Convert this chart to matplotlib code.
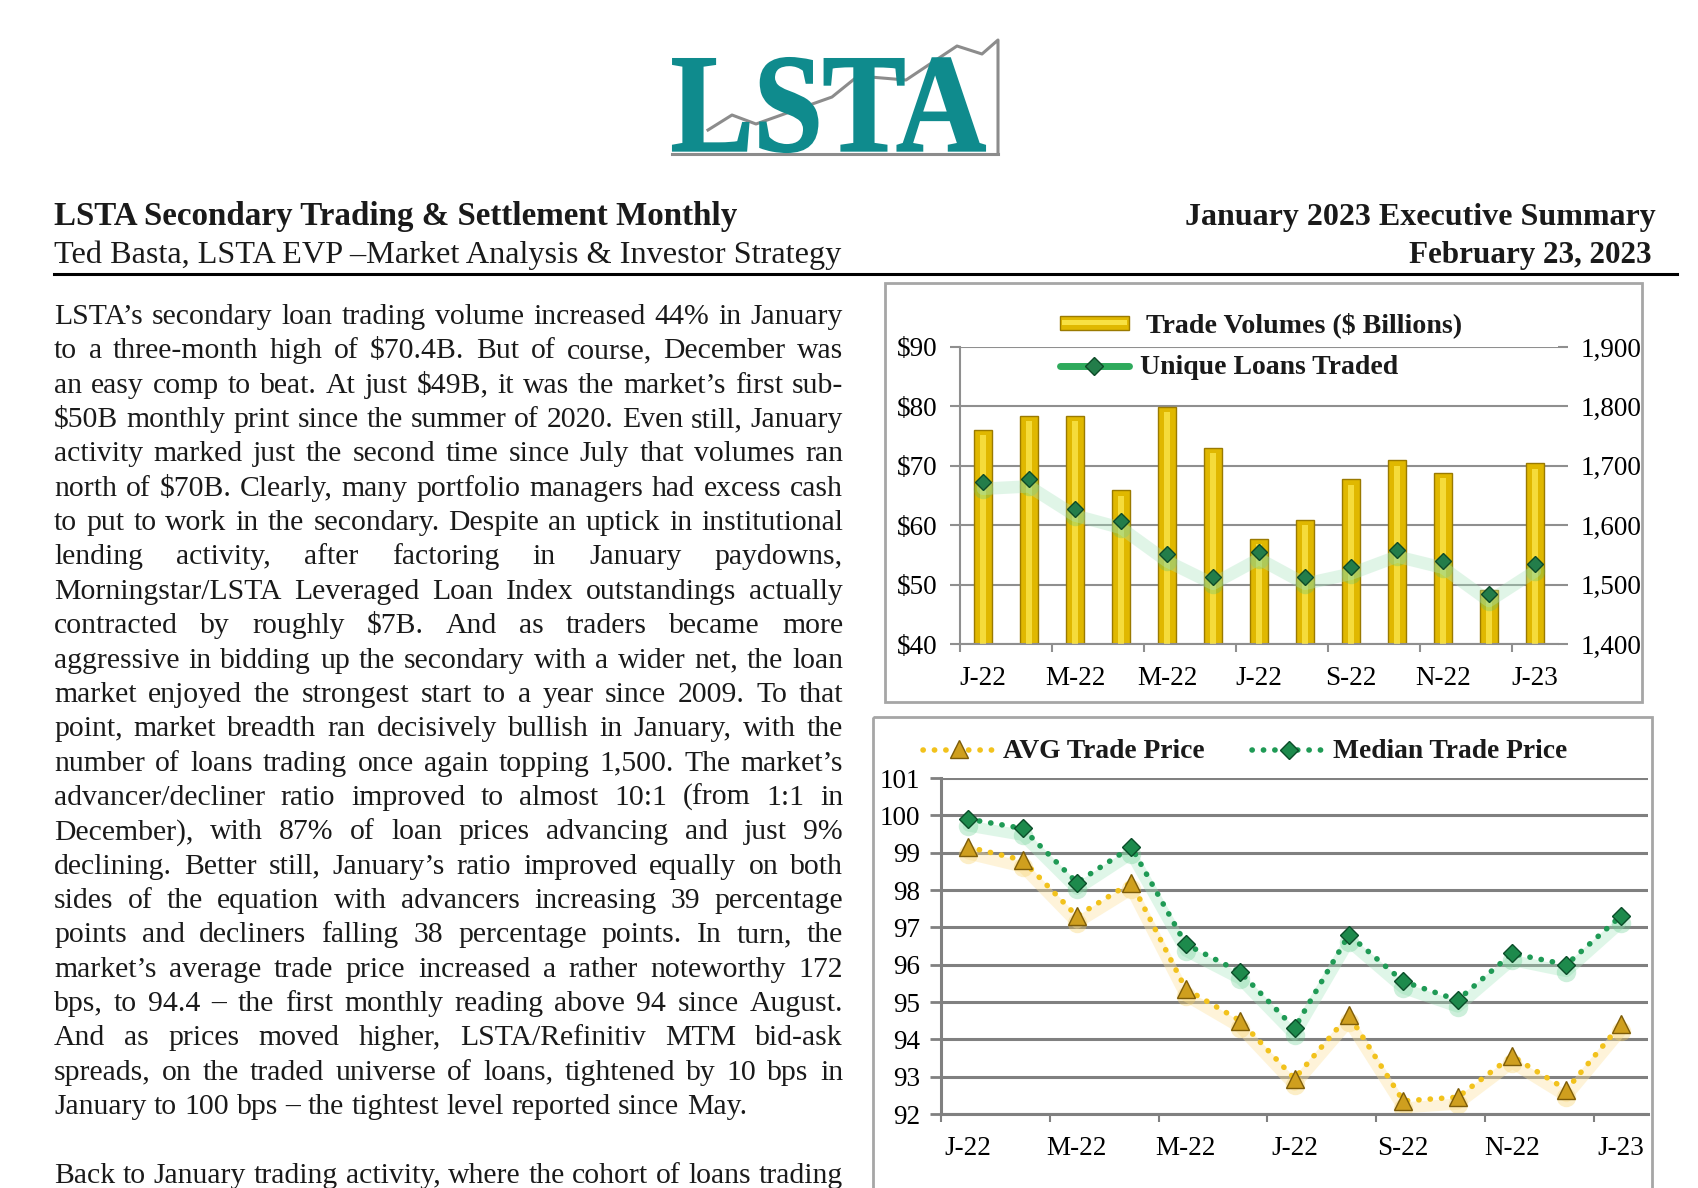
import matplotlib
matplotlib.use("Agg")
import matplotlib.pyplot as plt
import numpy as np
from matplotlib.patches import Rectangle, PathPatch
from matplotlib.textpath import TextPath
from matplotlib.font_manager import FontProperties
from matplotlib.transforms import Affine2D, ScaledTranslation
from matplotlib.ticker import FuncFormatter

W, H = 1699, 1188
plt.rcParams['font.family'] = ['Liberation Serif', 'DejaVu Serif']

# ---- data ----
months = ['Jan-22', 'Feb-22', 'Mar-22', 'Apr-22', 'May-22', 'Jun-22', 'Jul-22',
          'Aug-22', 'Sep-22', 'Oct-22', 'Nov-22', 'Dec-22', 'Jan-23']
tick_labels = ['J-22', 'M-22', 'M-22', 'J-22', 'S-22', 'N-22', 'J-23']
trade_volume = [76.1, 78.4, 78.4, 65.9, 79.9, 73.0, 57.7, 60.9, 67.7, 70.9, 68.8, 49.1, 70.4]
unique_loans = [1673, 1677, 1628, 1607, 1551, 1513, 1555, 1513, 1530, 1559, 1540, 1484, 1534]
avg_price = [99.15, 98.8, 97.3, 98.2, 95.35, 94.5, 92.95, 94.65, 92.35, 92.45, 93.55, 92.65, 94.4]
median_price = [99.9, 99.65, 98.2, 99.15, 96.55, 95.8, 94.3, 96.8, 95.55, 95.05, 96.3, 96.0, 97.3]

header_left = ["LSTA Secondary Trading & Settlement Monthly",
               "Ted Basta, LSTA EVP \u2013Market Analysis & Investor Strategy"]
header_right = ["January 2023 Executive Summary", "February 23, 2023"]

body_lines = [
    "LSTA\u2019s secondary loan trading volume increased 44% in January",
    "to a three-month high of $70.4B.  But of course, December was",
    "an easy comp to beat.  At just $49B, it was the market\u2019s first sub-",
    "$50B monthly print since the summer of 2020.  Even still, January",
    "activity marked just the second time since July that volumes ran",
    "north of $70B.  Clearly, many portfolio managers had excess cash",
    "to put to work in the secondary.  Despite an uptick in institutional",
    "lending activity, after factoring in January paydowns,",
    "Morningstar/LSTA Leveraged Loan Index outstandings actually",
    "contracted by roughly $7B.  And as traders became more",
    "aggressive in bidding up the secondary with a wider net, the loan",
    "market enjoyed the strongest start to a year since 2009.  To that",
    "point, market breadth ran decisively bullish in January, with the",
    "number of loans trading once again topping 1,500. The market\u2019s",
    "advancer/decliner ratio improved to almost 10:1 (from 1:1 in",
    "December), with 87% of loan prices advancing and just 9%",
    "declining.  Better still, January\u2019s ratio improved equally on both",
    "sides of the equation with advancers increasing 39 percentage",
    "points and decliners falling 38 percentage points.  In turn, the",
    "market\u2019s average trade price increased a rather noteworthy 172",
    "bps, to 94.4 \u2013 the first monthly reading above 94 since August.",
    "And as prices moved higher, LSTA/Refinitiv MTM bid-ask",
    "spreads, on the traded universe of loans, tightened by 10 bps in",
    "January to 100 bps \u2013 the tightest level reported since May.",
    "",
    "Back to January trading activity, where the cohort of loans trading",
]
paragraph_ends = [23]

fig = plt.figure(figsize=(W / 100, H / 100), dpi=100)
page = fig.add_axes([0, 0, 1, 1])
page.set_xlim(0, W)
page.set_ylim(H, 0)
page.axis('off')
r = fig.canvas.get_renderer()


def px_axes(x0, y0, x1, y1):
    return fig.add_axes([x0 / W, 1 - y1 / H, (x1 - x0) / W, (y1 - y0) / H])


def text_w(s, fs, **kw):
    t = page.text(0, 0, s, fontsize=fs, parse_math=False, **kw)
    w = t.get_window_extent(r).width
    t.remove()
    return w


def fit_text(ax, x, y, s, width, ha='left', **kw):
    t = ax.text(x, y, s, ha=ha, va='baseline', fontsize=20, parse_math=False, **kw)
    w = t.get_window_extent(r).width
    t.set_fontsize(20 * width / w)
    return t


# ---- logo ----
tp = TextPath((0, 0), "LSTA", size=1, prop=FontProperties(family='Liberation Serif', weight='bold'))
ext = tp.get_extents()
lx0, lx1, ltop, lbase = 673, 985, 58, 152
sx = (lx1 - lx0) / ext.width
sy = (lbase - ltop) / ext.height
logo_path = Affine2D().translate(-ext.x0, -ext.y0).scale(sx, -sy).translate(lx0, lbase).transform_path(tp)
page.plot([708, 732, 756, 832, 858, 906, 957, 982, 998, 998],
          [130, 115, 124, 97, 76, 80, 46, 54, 40, 154], color='#8c8c8c', lw=2.2, zorder=1)
page.plot([672, 998], [154, 154], color='#8c8c8c', lw=2.2, zorder=1)
page.add_patch(PathPatch(logo_path, facecolor='#0f8b8d', edgecolor='#0f8b8d', lw=1.5, zorder=2))

# ---- header ----
fit_text(page, 54, 225, header_left[0], 683, weight='bold', color='#1a1a1a')
fit_text(page, 54, 263, header_left[1], 787, color='#1a1a1a')
fit_text(page, 1656, 225, header_right[0], 470, ha='right', weight='bold', color='#1a1a1a')
fit_text(page, 1652, 263, header_right[1], 243, ha='right', weight='bold', color='#1a1a1a')
page.plot([54, 1677], [274, 274], color='black', lw=2.2)

# ---- body text, justified ----
x0, x1 = 54, 843
colw = x1 - x0
base = 20.0
sp = text_w('n n', base) - text_w('nn', base)
scale = 10
for i, line in enumerate(body_lines):
    if not line or i in paragraph_ends:
        continue
    words = line.split()
    nat = sum(text_w(w, base) for w in words) + sp * (len(words) - 1)
    scale = min(scale, colw / nat)
body_fs = base * scale * 0.995
body_sp = text_w('n n', body_fs) - text_w('nn', body_fs)
for i, line in enumerate(body_lines):
    if not line:
        continue
    y = 324 + 34.35 * i
    words = line.split()
    widths = [text_w(w, body_fs) for w in words]
    if i in paragraph_ends:
        gap = body_sp
    else:
        gap = (colw - sum(widths)) / (len(words) - 1)
    x = x0
    for w, wd in zip(words, widths):
        page.text(x, y, w, fontsize=body_fs, ha='left', va='baseline',
                  color='#1a1a1a', parse_math=False)
        x += wd + gap

# ---- chart frames ----
page.add_patch(Rectangle((885, 283), 1642 - 885, 702 - 283, fill=False, ec='#a6a6a6', lw=2))
page.add_patch(Rectangle((873, 717), 1652 - 873, 1215 - 717, fill=False, ec='#a6a6a6', lw=2))

xpos = np.arange(len(months))
grid_c = '#8f8f8f'
dots = (0, (0.05, 2.0))


def style_x(ax, c):
    ax.set_xlim(-0.5, len(months) - 0.5)
    ax.set_xticks(xpos[::2])
    ax.set_xticklabels(tick_labels)
    ax.set_xticks(np.arange(-0.5, len(months) - 1, 2), minor=True)
    ax.tick_params(axis='x', which='major', length=0, pad=16, labelsize=19.5)
    ax.tick_params(axis='x', which='minor', length=6, width=1.5, color=c, direction='out')


# ---- top chart: trade volumes + unique loans ----
ax1 = px_axes(960, 347, 1558, 644)
vol = np.array(trade_volume)
ax1.bar(xpos, vol, width=0.38, color='#e0b800', edgecolor='#9a7a00', lw=1.0, zorder=2)
ax1.bar(xpos, vol - 0.9, width=0.14, color='#ffec55', alpha=0.7, lw=0, zorder=3)
ax1.set_ylim(40, 90)
ax1.set_yticks(range(40, 91, 10))
ax1.yaxis.set_major_formatter(FuncFormatter(lambda v, p: f'${v:.0f}'))
ax1.yaxis.grid(True, color=grid_c, lw=1.5, zorder=0)
ax1.set_axisbelow(True)
style_x(ax1, grid_c)
ax1.tick_params(axis='y', length=7, width=1.5, color=grid_c, pad=9, labelsize=19.5)
for s in ['top', 'right']:
    ax1.spines[s].set_visible(False)
for s in ['left', 'bottom']:
    ax1.spines[s].set_color(grid_c)
    ax1.spines[s].set_linewidth(1.5)

ax2 = ax1.twinx()
ax2.set_ylim(1400, 1900)
ax2.set_yticks(range(1400, 1901, 100))
ax2.yaxis.set_major_formatter(FuncFormatter(lambda v, p: f'{v:,.0f}'))
ax2.tick_params(axis='y', length=7, width=1.5, color=grid_c, pad=9, labelsize=19.5)
for s in ax2.spines.values():
    s.set_visible(False)
down = ax2.transData + ScaledTranslation(0, -5 / 72, fig.dpi_scale_trans)
ax2.plot(xpos, unique_loans, color='#a8e4bd', lw=9, alpha=0.35, solid_capstyle='round',
         solid_joinstyle='round', zorder=3, transform=down)
ax2.plot(xpos, unique_loans, 'o', ms=14, color='#4cc277', alpha=0.3, mew=0, transform=down)
ax2.plot(xpos, unique_loans, 'D', ms=8.5, color='#237d4a', mec='#0d4a28', mew=1, zorder=4)

# ---- bottom chart: avg / median trade price ----
ax3 = px_axes(941, 778, 1648, 1114)
grid_d = '#808080'
ax3.set_ylim(92, 101)
ax3.set_yticks(range(92, 102))
ax3.yaxis.grid(True, color=grid_d, lw=2.2, zorder=0)
ax3.set_axisbelow(True)
style_x(ax3, grid_d)
ax3.tick_params(axis='y', length=8, width=2, color=grid_d, pad=7, labelsize=19.5)
for s in ['top', 'right']:
    ax3.spines[s].set_visible(False)
for s in ['left', 'bottom']:
    ax3.spines[s].set_color(grid_d)
    ax3.spines[s].set_linewidth(2.2)
shadow = ax3.transData + ScaledTranslation(0, -5 / 72, fig.dpi_scale_trans)
ax3.plot(xpos, median_price, color='#a6e6bf', lw=8, alpha=0.35, transform=shadow,
         solid_joinstyle='round', solid_capstyle='round')
ax3.plot(xpos, median_price, 'o', ms=14, color='#5ccc88', alpha=0.3, mew=0, transform=shadow)
ax3.plot(xpos, avg_price, color='#fde3a0', lw=8, alpha=0.4, transform=shadow,
         solid_joinstyle='round', solid_capstyle='round')
ax3.plot(xpos, avg_price, 'o', ms=14, color='#f8d060', alpha=0.35, mew=0, transform=shadow)
ax3.plot(xpos, avg_price, color='#f2c21c', lw=4, ls=dots, dash_capstyle='round', zorder=3)
ax3.plot(xpos, median_price, color='#1f9a55', lw=4, ls=dots, dash_capstyle='round', zorder=3)
ax3.plot(xpos, avg_price, '^', ms=13, color='#cf9f1e', mec='#7d5c08', mew=1, zorder=4)
ax3.plot(xpos, median_price, 'D', ms=9, color='#1d8a4c', mec='#0b4d29', mew=1, zorder=4)

# ---- legends (overlay) ----
ov = fig.add_axes([0, 0, 1, 1])
ov.set_xlim(0, W)
ov.set_ylim(H, 0)
ov.axis('off')
ov.add_patch(Rectangle((1060, 316), 69, 14, fc='#e0b800', ec='#9a7a00', lw=1))
ov.add_patch(Rectangle((1062, 320), 65, 5, fc='#ffec55', ec='none', alpha=0.8))
fit_text(ov, 1146, 332, "Trade Volumes ($ Billions)", 317, weight='bold', color='#1a1a1a')
ov.plot([1060, 1129], [366, 366], color='#2eaa5c', lw=5, solid_capstyle='round')
ov.plot([1094], [366], 'D', ms=9, color='#237d4a', mec='#0d4a28', mew=1)
fit_text(ov, 1140, 374, "Unique Loans Traded", 258, weight='bold', color='#1a1a1a')

ov.plot([923, 995], [750, 750], color='#f2c21c', lw=4, ls=dots, dash_capstyle='round')
ov.plot([959], [749], '^', ms=13, color='#cf9f1e', mec='#7d5c08', mew=1)
fit_text(ov, 1003, 758, "AVG Trade Price", 202, weight='bold', color='#1a1a1a')
ov.plot([1252, 1324], [750, 750], color='#1f9a55', lw=4, ls=dots, dash_capstyle='round')
ov.plot([1289], [750], 'D', ms=9, color='#1d8a4c', mec='#0b4d29', mew=1)
fit_text(ov, 1333, 758, "Median Trade Price", 234, weight='bold', color='#1a1a1a')

fig.savefig('out.png', dpi=100)
